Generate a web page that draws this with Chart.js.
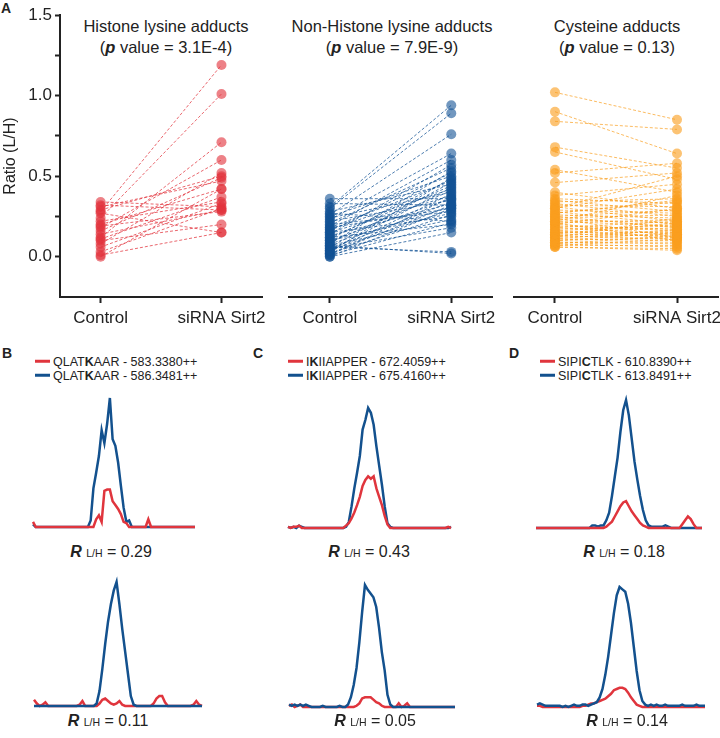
<!DOCTYPE html>
<html>
<head>
<meta charset="utf-8">
<title>Sirt2 adduct ratios</title>
<script src="https://cdn.jsdelivr.net/npm/chart.js"></script>
<style>
  body { margin: 0; background: #fff; }
  #fig { position: relative; width: 720px; height: 738px; font-family: "Liberation Sans", Arial, sans-serif; color: #222; overflow: hidden; }
  .box { position: absolute; }
  .t { position: absolute; white-space: nowrap; transform: translate(-50%, -50%); font-size: 16.5px; line-height: 1; }
  .r { font-size: 16px; }
  .l { position: absolute; white-space: nowrap; transform: translateY(-50%); font-size: 12.5px; line-height: 1; }
  .lbl { position: absolute; font-weight: bold; font-size: 14px; line-height: 1; transform: translate(-50%, -50%); }
  .sw { display: inline-block; width: 15px; height: 3px; vertical-align: middle; margin-right: 3px; position: relative; top: -1px; }
  .sub { font-size: 10.5px; }
</style>
</head>
<body>
<div id="fig">
  <div class="lbl" style="left:6px; top:8px;">A</div>

  <div class="t" style="left:166px; top:26px;">Histone lysine adducts</div>
  <div class="t" style="left:166px; top:47px;">(<b><i>p</i></b> value = 3.1E-4)</div>
  <div class="t" style="left:392px; top:26px;">Non-Histone lysine adducts</div>
  <div class="t" style="left:392px; top:47px;">(<b><i>p</i></b> value = 7.9E-9)</div>
  <div class="t" style="left:617px; top:26px;">Cysteine adducts</div>
  <div class="t" style="left:617px; top:47px;">(<b><i>p</i></b> value = 0.13)</div>

  <div class="box" style="left:0px; top:0px; width:272px; height:335px;"><canvas id="a1" width="272" height="335"></canvas></div>
  <div class="box" style="left:280px; top:0px; width:222px; height:335px;"><canvas id="a2" width="222" height="335"></canvas></div>
  <div class="box" style="left:505px; top:0px; width:228px; height:335px;"><canvas id="a3" width="228" height="335"></canvas></div>

  <div class="lbl" style="left:7px; top:353px;">B</div>
  <div class="lbl" style="left:258px; top:353px;">C</div>
  <div class="lbl" style="left:514px; top:353px;">D</div>

  <div class="l" style="left:35px; top:362px;"><span class="sw" style="background:#e0353d"></span>QLAT<b>K</b>AAR - 583.3380++</div>
  <div class="l" style="left:35px; top:376px;"><span class="sw" style="background:#13518e"></span>QLAT<b>K</b>AAR - 586.3481++</div>
  <div class="l" style="left:288px; top:362px;"><span class="sw" style="background:#e0353d"></span>I<b>K</b>IIAPPER - 672.4059++</div>
  <div class="l" style="left:288px; top:376px;"><span class="sw" style="background:#13518e"></span>I<b>K</b>IIAPPER - 675.4160++</div>
  <div class="l" style="left:540px; top:362px;"><span class="sw" style="background:#e0353d"></span>SIPI<b>C</b>TLK - 610.8390++</div>
  <div class="l" style="left:540px; top:376px;"><span class="sw" style="background:#13518e"></span>SIPI<b>C</b>TLK - 613.8491++</div>

  <div class="box" style="left:27px; top:392px; width:174px; height:141px;"><canvas id="bTop" width="174" height="141"></canvas></div>
  <div class="box" style="left:282px; top:402px; width:175px; height:132px;"><canvas id="cTop" width="175" height="132"></canvas></div>
  <div class="box" style="left:530px; top:394px; width:178px; height:140px;"><canvas id="dTop" width="178" height="140"></canvas></div>
  <div class="box" style="left:28px; top:576px; width:180px; height:136px;"><canvas id="bBot" width="180" height="136"></canvas></div>
  <div class="box" style="left:283px; top:579px; width:178px; height:134px;"><canvas id="cBot" width="178" height="134"></canvas></div>
  <div class="box" style="left:531px; top:581px; width:180px; height:132px;"><canvas id="dBot" width="180" height="132"></canvas></div>

  <div class="t r" style="left:111px; top:552px;"><b><i>R</i></b> <span class="sub">L/H</span> = 0.29</div>
  <div class="t r" style="left:369px; top:552px;"><b><i>R</i></b> <span class="sub">L/H</span> = 0.43</div>
  <div class="t r" style="left:624px; top:552px;"><b><i>R</i></b> <span class="sub">L/H</span> = 0.18</div>
  <div class="t r" style="left:108px; top:721px;"><b><i>R</i></b> <span class="sub">L/H</span> = 0.11</div>
  <div class="t r" style="left:375px; top:721px;"><b><i>R</i></b> <span class="sub">L/H</span> = 0.05</div>
  <div class="t r" style="left:627px; top:721px;"><b><i>R</i></b> <span class="sub">L/H</span> = 0.14</div>
</div>
<script>
// panel A: paired L/H ratios, control vs siRNA Sirt2
const groups = ['Control', 'siRNA Sirt2'];
const yTicks = [0, 0.25, 0.5, 0.75, 1, 1.25, 1.5];
const yLabels = ['0.0', '', '0.5', '', '1.0', '', '1.5'];

const histoneCtrl = [0.34, 0.32, 0.31, 0.29, 0.27, 0.28, 0.24, 0.22, 0.20, 0.19, 0.18, 0.16, 0.14, 0.12, 0.11, 0.10, 0.08, 0.06, 0.03, 0.01, 0.00];
const histoneSi   = [0.31, 0.29, 0.47, 0.50, 0.15, 1.19, 1.01, 0.34, 0.42, 0.28, 0.60, 0.49, 0.29, 0.71, 0.37, 0.20, 0.52, 0.33, 0.30, 0.15, 0.42];

const nonHistoneCtrl = [0.36, 0.33, 0.31, 0.30, 0.28, 0.27, 0.26, 0.25, 0.24, 0.23, 0.22, 0.21, 0.20, 0.19, 0.18, 0.18, 0.17, 0.16, 0.15, 0.15, 0.14, 0.13, 0.12, 0.12, 0.11, 0.10, 0.10, 0.09, 0.08, 0.08, 0.07, 0.07, 0.06, 0.05, 0.05, 0.04, 0.04, 0.03, 0.03, 0.02, 0.02, 0.01, 0.01, 0.00, 0.00, 0.06];
const nonHistoneSi   = [0.36, 0.32, 0.94, 0.89, 0.45, 0.22, 0.76, 0.50, 0.40, 0.64, 0.35, 0.55, 0.28, 0.60, 0.47, 0.30, 0.42, 0.52, 0.25, 0.38, 0.57, 0.33, 0.44, 0.20, 0.48, 0.27, 0.36, 0.41, 0.31, 0.53, 0.02, 0.23, 0.46, 0.34, 0.18, 0.43, 0.29, 0.39, 0.49, 0.26, 0.32, 0.37, 0.21, 0.30, 0.15, 0.03];

const cysteineCtrl = [1.02, 0.90, 0.84, 0.68, 0.65, 0.54, 0.52, 0.46, 0.40, 0.38, 0.36, 0.35, 0.34, 0.33, 0.32, 0.31, 0.30, 0.29, 0.28, 0.27, 0.26, 0.25, 0.25, 0.24, 0.23, 0.22, 0.22, 0.21, 0.20, 0.20, 0.19, 0.18, 0.18, 0.17, 0.16, 0.16, 0.15, 0.15, 0.14, 0.14, 0.13, 0.13, 0.12, 0.12, 0.11, 0.11, 0.10, 0.10, 0.09, 0.09, 0.08, 0.08, 0.07, 0.07, 0.06, 0.06, 0.30, 0.27, 0.24, 0.21];
const cysteineSi   = [0.85, 0.64, 0.79, 0.55, 0.48, 0.40, 0.58, 0.52, 0.30, 0.45, 0.33, 0.28, 0.36, 0.25, 0.31, 0.22, 0.42, 0.27, 0.20, 0.35, 0.24, 0.18, 0.29, 0.26, 0.21, 0.19, 0.38, 0.23, 0.16, 0.30, 0.17, 0.22, 0.14, 0.19, 0.20, 0.12, 0.18, 0.15, 0.13, 0.21, 0.16, 0.11, 0.14, 0.24, 0.10, 0.17, 0.12, 0.15, 0.09, 0.08, 0.13, 0.06, 0.11, 0.07, 0.05, 0.04, 0.50, 0.34, 0.12, 0.10];

// panels B-D: extracted ion chromatograms, light (red) and heavy (blue), relative intensity
const bTopLight = [0.04,0,0,0,0,0,0,0,0,0, 0,0,0,0,0,0,0,0,0,0, 0,0,0,0.06,0.09,0.04,0.28,0.29,0.29,0.2, 0.17,0.14,0.1,0.04,0.03,0,0,0,0,0, 0,0,0.06,0,0,0,0,0,0,0, 0,0,0,0,0,0,0,0,0,0];
const bTopHeavy = [0.02,0,0,0,0,0,0,0,0,0, 0,0,0,0,0,0,0,0,0,0, 0,0.05,0.3,0.42,0.55,0.75,0.65,0.8,1.0,0.68, 0.63,0.5,0.32,0.15,0.04,0.05,0,0,0,0, 0,0,0,0,0,0,0,0,0,0, 0,0,0,0,0,0,0,0,0,0];
const cTopLight = [0.01,0,0.01,0.01,0.02,0,0,0,0,0, 0,0,0,0,0,0,0,0,0,0, 0,0.02,0.04,0.08,0.13,0.19,0.26,0.35,0.4,0.43, 0.41,0.43,0.33,0.26,0.19,0.1,0.03,0,0,0, 0,0,0,0,0,0,0,0,0,0, 0,0,0,0,0,0,0,0,0.01,0];
const cTopHeavy = [0.01,0,0.01,0,0.02,0.01,0,0,0,0, 0,0,0,0,0,0,0,0,0,0, 0,0.01,0.05,0.18,0.33,0.46,0.6,0.82,0.9,1.0, 0.96,0.86,0.68,0.52,0.36,0.18,0.04,0.01,0,0, 0,0,0,0,0,0,0,0,0,0, 0,0,0,0,0,0,0,0,0,0.01];
const dTopLight = [0,0,0,0,0,0,0,0,0,0, 0,0,0,0,0,0,0,0,0,0, 0,0,0,0,0,0.01,0.03,0.05,0.09,0.13, 0.17,0.2,0.21,0.17,0.13,0.1,0.07,0.04,0.02,0.01, 0,0,0,0,0,0,0,0,0,0, 0,0,0.03,0.06,0.09,0.07,0.03,0,0,0];
const dTopHeavy = [0,0,0,0,0,0,0,0,0,0, 0,0,0,0,0,0,0,0,0,0, 0.02,0.02,0.01,0.02,0.02,0.06,0.12,0.25,0.4,0.55, 0.75,0.92,1.0,0.88,0.7,0.52,0.38,0.25,0.14,0.06, 0.02,0.01,0.01,0.01,0.01,0.01,0.02,0.01,0,0, 0,0,0,0,0,0,0,0,0,0];
const bBotLight = [0.05,0.02,0,0.01,0.03,0,0,0,0,0, 0,0,0,0,0,0,0.01,0.04,0,0, 0,0,0,0.02,0.05,0.06,0.04,0.02,0.01,0.02, 0.04,0.01,0,0,0,0,0,0,0,0, 0,0,0.02,0.06,0.08,0.08,0.03,0,0,0, 0,0,0,0,0,0,0.01,0.04,0.01,0];
const bBotHeavy = [0,0,0,0,0,0,0,0,0,0, 0,0,0,0,0,0,0,0,0,0, 0,0,0.02,0.12,0.3,0.5,0.68,0.82,0.93,1.0, 0.82,0.62,0.44,0.26,0.08,0.01,0,0,0,0, 0,0,0,0,0,0,0,0,0,0, 0,0,0,0,0,0,0,0,0,0];
const cBotLight = [0.01,0.02,0,0.01,0.02,0,0,0,0,0, 0,0,0,0,0,0,0,0,0,0, 0,0,0,0,0.01,0.03,0.07,0.08,0.08,0.08, 0.06,0.04,0.03,0.01,0,0,0,0,0,0.03, 0,0.01,0.03,0,0,0,0,0,0,0, 0,0,0,0,0,0,0,0,0,0];
const cBotHeavy = [0.02,0.01,0.02,0.01,0.02,0.01,0.02,0.01,0,0, 0,0,0.01,0,0,0,0,0,0.01,0, 0,0.02,0.08,0.18,0.32,0.53,0.78,1.0,0.96,0.93, 0.9,0.82,0.65,0.45,0.3,0.1,0.02,0,0,0, 0,0,0,0,0,0,0,0,0,0, 0,0,0,0,0,0,0,0,0,0];
const dBotLight = [0.01,0.01,0,0,0,0,0,0,0,0, 0,0,0,0,0,0,0.01,0.01,0.02,0.03, 0.03,0.04,0.05,0.06,0.07,0.09,0.11,0.14,0.15,0.16, 0.16,0.15,0.12,0.08,0.05,0.02,0.01,0,0,0, 0,0,0,0,0,0,0,0,0,0, 0,0,0,0,0,0,0,0,0,0];
const dBotHeavy = [0.02,0.03,0.02,0.01,0.01,0.01,0.01,0.01,0.01,0, 0.01,0,0.01,0.02,0.01,0.01,0.02,0.02,0.01,0.02, 0.03,0.04,0.08,0.15,0.27,0.42,0.6,0.78,0.93,1.0, 0.98,0.96,0.86,0.7,0.5,0.3,0.14,0.05,0.02,0.01, 0.02,0.01,0.02,0.01,0.01,0.02,0.01,0.01,0.01,0.01, 0.01,0.02,0.01,0.01,0.01,0.01,0.02,0.01,0.01,0.01];

const ink = '#222';
const fontName = '"Liberation Sans", Arial, sans-serif';
Chart.defaults.font.family = fontName;
Chart.defaults.color = ink;

function makePaired(id, ctrl, si, dot, line, showY, padL, padR) {
    // one small dataset per protein: control point, siRNA point and the dashed link
    const sets = ctrl.map((c, i) => ({
        data: [{ x: 0, y: c }, { x: 1, y: si[i] }],
        showLine: true,
        borderColor: line,
        borderWidth: 1,
        borderDash: [3, 2],
        pointRadius: 5,
        pointBackgroundColor: dot,
        pointBorderWidth: 0,
        clip: false
    }));
    new Chart(document.getElementById(id), {
        type: 'scatter',
        data: { datasets: sets },
        options: {
            responsive: false,
            animation: false,
            events: [],
            layout: { padding: { left: padL, right: padR, top: 15, bottom: 0 } },
            plugins: { legend: { display: false }, tooltip: { enabled: false } },
            scales: {
                x: {
                    type: 'linear', min: -0.336, max: 1.336,
                    afterBuildTicks: s => { s.ticks = [{ value: 0 }, { value: 1 }]; },
                    afterFit: s => { s.height = 38; },
                    ticks: { callback: (v, i) => groups[i], font: { size: 17 }, color: ink, padding: 5, maxRotation: 0 },
                    grid: { display: true, drawOnChartArea: false, drawTicks: true, tickLength: 6, tickWidth: 2, tickColor: ink },
                    border: { display: true, color: ink, width: 2 }
                },
                y: {
                    display: showY,
                    min: -0.25, max: 1.5,
                    afterBuildTicks: s => { s.ticks = yTicks.map(v => ({ value: v })); },
                    afterFit: s => { s.width = showY ? 60 : 0; },
                    ticks: { callback: (v, i) => yLabels[i], font: { size: 17 }, color: ink, padding: 3 },
                    grid: { display: true, drawOnChartArea: false, drawTicks: true, tickLength: 5, tickWidth: 2, tickColor: ink },
                    border: { display: true, color: ink, width: 2 },
                    title: { display: true, text: 'Ratio (L/H)', font: { size: 16 }, color: ink, padding: { top: 1, bottom: 0 } }
                }
            }
        }
    });
}

makePaired('a1', histoneCtrl, histoneSi, 'rgba(226,52,62,0.62)', 'rgba(226,52,62,0.75)', true, 0, 8);
makePaired('a2', nonHistoneCtrl, nonHistoneSi, 'rgba(18,82,148,0.6)', 'rgba(18,82,148,0.75)', false, 9, 9);
makePaired('a3', cysteineCtrl, cysteineSi, 'rgba(250,158,30,0.62)', 'rgba(250,158,30,0.7)', false, 9, 15);

function makeChrom(id, light, heavy, heavyOnTop) {
    const red = { data: light, borderColor: '#e0353d', borderWidth: 2.5, pointRadius: 0, tension: 0, clip: false, order: heavyOnTop ? 1 : 0 };
    const blue = { data: heavy, borderColor: '#13518e', borderWidth: 2.5, pointRadius: 0, tension: 0, clip: false, order: heavyOnTop ? 0 : 1 };
    new Chart(document.getElementById(id), {
        type: 'line',
        data: { labels: heavy.map((v, i) => i), datasets: [red, blue] },
        options: {
            responsive: false,
            animation: false,
            events: [],
            layout: { padding: 6 },
            plugins: { legend: { display: false }, tooltip: { enabled: false } },
            scales: {
                x: { display: false },
                y: { display: false, min: 0, max: 1 }
            }
        }
    });
}

makeChrom('bTop', bTopLight, bTopHeavy, false);
makeChrom('cTop', cTopLight, cTopHeavy, false);
makeChrom('dTop', dTopLight, dTopHeavy, false);
makeChrom('bBot', bBotLight, bBotHeavy, true);
makeChrom('cBot', cBotLight, cBotHeavy, true);
makeChrom('dBot', dBotLight, dBotHeavy, true);
</script>
</body>
</html>
